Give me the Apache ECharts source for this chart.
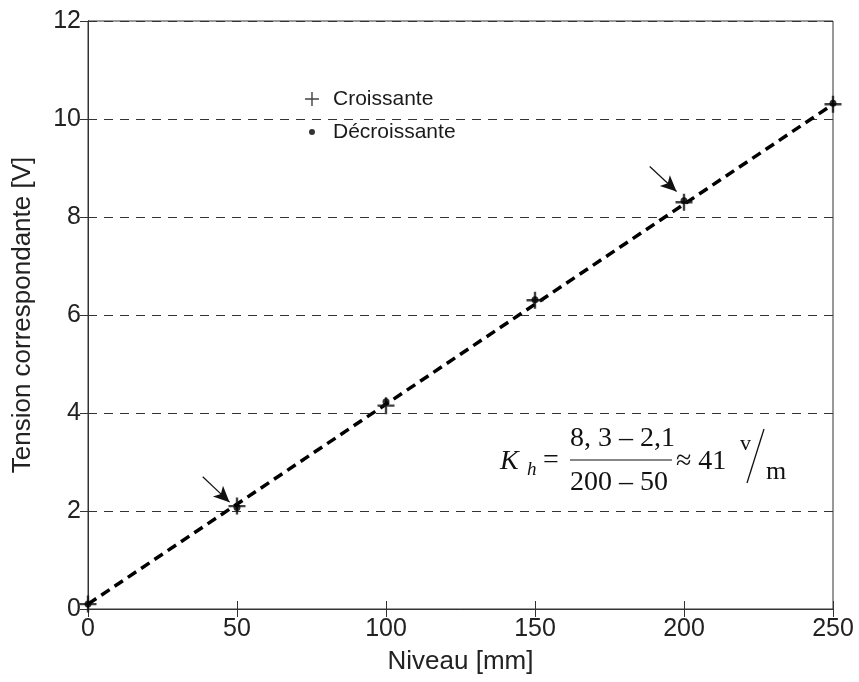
<!DOCTYPE html>
<html><head><meta charset="utf-8">
<script src="https://cdn.jsdelivr.net/npm/echarts@6/dist/echarts.min.js"></script>
<style>html,body{margin:0;padding:0;background:#fff}#c{width:859px;height:682px}</style>
</head><body><div id="c"></div>
<script>
const niveau = [0, 50, 100, 150, 200, 250];
const croissante = [0.1, 2.1, 4.15, 6.3, 8.3, 10.3];
const decroissante = [0.1, 2.07, 4.23, 6.31, 8.33, 10.32];
const fitX = [0, 250];
const fitY = [0.1, 10.3];
const arrows = [ [[38.5, 2.7], [47.5, 2.18]], [[188.5, 9.03], [197.5, 8.52]] ];
const xTicks = [0, 50, 100, 150, 200, 250];
const yTicks = [0, 2, 4, 6, 8, 10, 12];

const plusPath = 'path://M4.3,0h1.4v4.3h4.3v1.4h-4.3v4.3h-1.4v-4.3h-4.3v-1.4h4.3z';
const legendPlus = 'path://M0,0L0.01,0M25,22L25.01,22M8.3,4h1.4v6.3h6.3v1.4h-6.3v6.3h-1.4v-6.3h-6.3v-1.4h6.3z';
const legendDot = 'path://M0,0L0.01,0M25,22L25.01,22M6,11a3,3 0 1,0 6,0a3,3 0 1,0 -6,0z';
const font = 'Liberation Sans, Arial, sans-serif';
const serif = 'Liberation Serif, Times New Roman, serif';

const chart = echarts.init(document.getElementById('c'), null, {renderer: 'canvas'});
const pts = a => niveau.map((x, i) => [x, a[i]]);
chart.setOption({
  animation: false,
  backgroundColor: '#fff',
  grid: {left: 88, top: 21, right: 26, bottom: 73, show: true, borderColor: '#333', borderWidth: 1},
  legend: {
    orient: 'vertical', left: 303, top: 88, itemGap: 11, itemWidth: 25, itemHeight: 22, padding: 0,
    textStyle: {fontFamily: font, fontSize: 21, color: '#1a1a1a'},
    data: [{name: 'Croissante', icon: legendPlus}, {name: 'Décroissante', icon: legendDot}]
  },
  xAxis: [{
    type: 'value', min: 0, max: 250, interval: 50,
    name: 'Niveau [mm]', nameLocation: 'middle', nameGap: 40,
    nameTextStyle: {fontFamily: font, fontSize: 26, color: '#222'},
    axisLine: {lineStyle: {color: '#333'}},
    axisTick: {inside: true, length: 8, lineStyle: {color: '#333'}},
    axisLabel: {fontFamily: font, fontSize: 25, color: '#222', margin: 8, formatter: v => xTicks.includes(v) ? String(v) : ''},
    splitLine: {show: false}
  }, {
    type: 'value', min: 0, max: 250, interval: 50, position: 'top',
    axisLine: {lineStyle: {color: '#333'}}, axisTick: {inside: true, length: 8, lineStyle: {color: '#333'}},
    axisLabel: {show: false}, splitLine: {show: false}
  }],
  yAxis: [{
    type: 'value', min: 0, max: 12, interval: 2,
    name: 'Tension correspondante [V]', nameLocation: 'middle', nameGap: 52,
    nameTextStyle: {fontFamily: font, fontSize: 26, color: '#222'},
    axisLine: {show: true, lineStyle: {color: '#333'}},
    axisTick: {show: true, inside: true, length: 8, lineStyle: {color: '#333'}},
    axisLabel: {fontFamily: font, fontSize: 25, color: '#222', margin: 7, formatter: v => yTicks.includes(v) ? String(v) : ''},
    splitLine: {show: true, lineStyle: {color: '#333', type: [9, 7], width: 1}}
  }, {
    type: 'value', min: 0, max: 12, interval: 2, position: 'right',
    axisLine: {show: true, lineStyle: {color: '#333'}}, axisTick: {show: true, inside: true, length: 8, lineStyle: {color: '#333'}},
    axisLabel: {show: false}, splitLine: {show: false}
  }],
  series: [{
    name: 'fit', type: 'line', data: fitX.map((x, i) => [x, fitY[i]]),
    symbol: 'none', lineStyle: {color: '#000', width: 3.5, type: [10, 6]}, z: 3,
    markLine: {
      silent: true, symbol: ['none', 'arrow'], symbolSize: [11, 16],
      lineStyle: {color: '#111', width: 1.2, type: 'solid'}, label: {show: false},
      data: arrows.map(a => [{coord: a[0]}, {coord: a[1]}])
    }
  }, {
    name: 'Croissante', type: 'scatter', data: pts(croissante),
    symbol: plusPath, symbolSize: 17, itemStyle: {color: '#111'}, z: 5
  }, {
    name: 'Décroissante', type: 'scatter', data: pts(decroissante),
    symbol: 'circle', symbolSize: 7, itemStyle: {color: '#000'}, z: 6
  }],
  graphic: [{
    type: 'group', left: 500, top: 425, silent: true,
    children: [
      {type: 'text', x: 0, y: 21, style: {text: 'K', font: 'italic 28px ' + serif, fill: '#111'}},
      {type: 'text', x: 27, y: 33, style: {text: 'h', font: 'italic 19px ' + serif, fill: '#111'}},
      {type: 'text', x: 43, y: 20, style: {text: '=', font: '28px ' + serif, fill: '#111'}},
      {type: 'text', x: 70, y: -2, style: {text: '8, 3 \u2013 2,1', font: '28px ' + serif, fill: '#111'}},
      {type: 'line', shape: {x1: 70, y1: 33, x2: 172, y2: 33}, style: {stroke: '#111', lineWidth: 1.2}},
      {type: 'text', x: 70, y: 42, style: {text: '200 \u2013 50', font: '28px ' + serif, fill: '#111'}},
      {type: 'text', x: 176, y: 21, style: {text: '\u2248 41', font: '28px ' + serif, fill: '#111'}},
      {type: 'text', x: 240, y: 6, style: {text: 'v', font: '22px ' + serif, fill: '#111'}},
      {type: 'line', shape: {x1: 247, y1: 56, x2: 264, y2: 2}, style: {stroke: '#111', lineWidth: 1.3}},
      {type: 'text', x: 266, y: 32, style: {text: 'm', font: '26px ' + serif, fill: '#111'}}
    ]
  }]
});
</script></body></html>
